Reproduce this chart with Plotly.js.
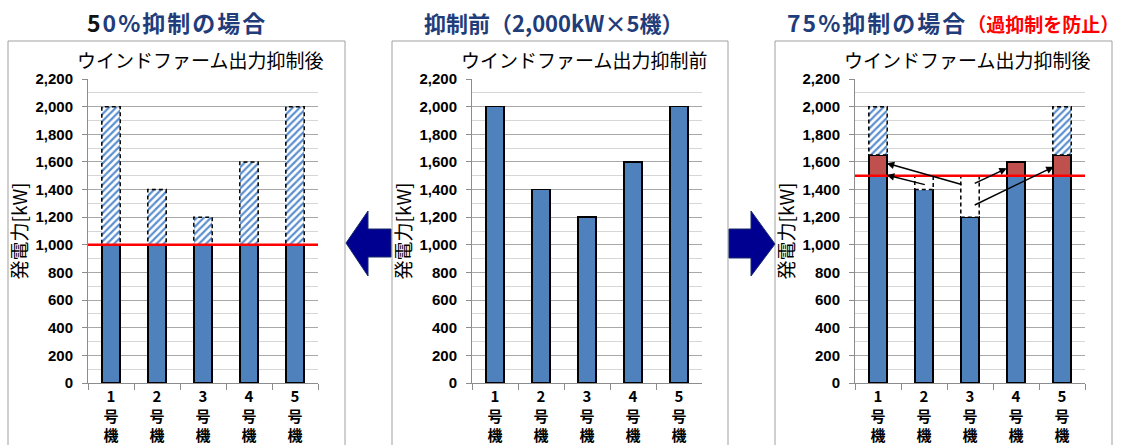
<!DOCTYPE html>
<html>
<head>
<meta charset="utf-8">
<script src="https://cdn.plot.ly/plotly-3.0.1.min.js"></script>
<style>html,body{margin:0;padding:0;background:#fff;}#chart{width:1132px;height:445px;}</style>
</head>
<body>
<div id="chart"></div>
<script>
// ---- data ----
const units = ['1<br>号<br>機', '2<br>号<br>機', '3<br>号<br>機', '4<br>号<br>機', '5<br>号<br>機'];
// 50% curtailment
const left_output = [1000, 1000, 1000, 1000, 1000];
const left_curtailed = [1000, 400, 200, 600, 1000];
const left_limit = 1000;
// before curtailment
const before_output = [2000, 1400, 1200, 1600, 2000];
// 75% curtailment
const right_output = [1500, 1400, 1200, 1500, 1500];
const right_shortfall = [0, 100, 300, 0, 0];
const right_added = [150, 0, 0, 100, 150];
const right_curtailed = [350, 0, 0, 0, 350];
const right_limit = 1500;
// transfer arrows in right panel (unit index position, kW)
const transfer_from_x = [1.05, 1.85, 2.07, 2.07];
const transfer_from_y = [1433, 1433, 1440, 1283];
const transfer_to_x = [0.19, 0.19, 2.80, 3.82];
const transfer_to_y = [1505, 1590, 1554, 1565];

const panelTitles = ['50%抑制の場合', '抑制前（2,000kW×5機）', '75%抑制の場合'];
const panelNote = '（過抑制を防止）';
const chartTitles = ['ウインドファーム出力抑制後', 'ウインドファーム出力抑制前', 'ウインドファーム出力抑制後'];
const yTitle = '発電力[kW]';

// ---- style ----
const W = 1132, H = 445;
const BLUE = '#4F81BD', RED = '#C0504D', NAVY = '#1F3D7A';
const JP = '"Noto Sans CJK JP", "Noto Sans", sans-serif';
const NUM = '"Liberation Sans", Arial, sans-serif';
const px = (x) => x / W;
const py = (y) => 1 - y / H;

const solidLine = {color: '#000', width: 1.5};
const hatch = {shape: '/', fgcolor: '#5B8FCF', bgcolor: '#ffffff', size: 5, solidity: 0.45};

function bar(xa, ya, y, color, opts) {
  const t = {type: 'bar', x: units, y: y, xaxis: xa, yaxis: ya, hoverinfo: 'skip',
    marker: {color: color, line: solidLine}};
  return Object.assign(t, opts || {});
}

const traces = [
  bar('x', 'y', left_output, BLUE),
  bar('x', 'y', left_curtailed, '#ffffff', {marker: {color: '#ffffff', pattern: hatch, line: {width: 0}}}),
  bar('x2', 'y2', before_output, BLUE),
  bar('x3', 'y3', right_output, BLUE),
  bar('x3', 'y3', right_shortfall, '#ffffff', {marker: {color: '#ffffff', line: {width: 0}}}),
  bar('x3', 'y3', right_added, RED),
  bar('x3', 'y3', right_curtailed, '#ffffff', {marker: {color: '#ffffff', pattern: hatch, line: {width: 0}}}),
];

function yaxis(domX) {
  return {
    domain: [py(383), py(79)], range: [0, 2200], dtick: 200, tickformat: ',d',
    showgrid: true, gridcolor: '#a8a8a8', gridwidth: 1,
    minor: {dtick: 100, showgrid: true, gridcolor: '#d6d6d6', gridwidth: 1},
    showline: true, linecolor: '#8c8c8c', linewidth: 1,
    ticks: 'outside', ticklen: 5, tickcolor: '#8c8c8c',
    tickfont: {family: NUM, size: 15, color: '#000', weight: 'bold'},
    ticklabelstandoff: 6,
    title: {text: yTitle, font: {family: JP, size: 19, color: '#000'}, standoff: 2},
    zeroline: false, fixedrange: true, anchor: domX
  };
}
function xaxis(d, ya) {
  return {
    domain: [px(d[0]), px(d[1])], type: 'category', range: [-0.5, 4.5],
    tickson: 'boundaries', ticks: 'outside', ticklen: 6, tickcolor: '#8c8c8c',
    showline: true, linecolor: '#8c8c8c', linewidth: 1, showgrid: false,
    tickfont: {family: JP, size: 15, color: '#000', weight: 'bold'},
    fixedrange: true, anchor: ya
  };
}

const shapes = [];
// panel frames
[[8, 345], [392, 728], [775, 1112]].forEach(([a, b]) => {
  shapes.push({type: 'rect', xref: 'paper', yref: 'paper', x0: px(a), x1: px(b), y0: -0.05, y1: py(41),
    line: {color: '#a0a0a0', width: 1}, fillcolor: 'rgba(0,0,0,0)', layer: 'below'});
});
// big arrows
function pathFrom(pts) { return 'M' + pts.map(p => px(p[0]) + ',' + py(p[1])).join(' L') + ' Z'; }
shapes.push({type: 'path', xref: 'paper', yref: 'paper',
  path: pathFrom([[346, 243], [368, 211], [368, 229], [391, 229], [391, 257], [368, 257], [368, 276]]),
  fillcolor: '#000090', line: {color: '#1a2a6a', width: 1}});
shapes.push({type: 'path', xref: 'paper', yref: 'paper',
  path: pathFrom([[729, 229], [751, 229], [751, 211], [775, 244], [751, 276], [751, 258], [729, 258]]),
  fillcolor: '#000090', line: {color: '#1a2a6a', width: 1}});

// dashed outlines for curtailed / shortfall segments
function dashed(xr, yr, base, vals) {
  vals.forEach((v, i) => {
    if (!v) return;
    shapes.push({type: 'rect', xref: xr, yref: yr, x0: i - 0.2, x1: i + 0.2, y0: base[i], y1: base[i] + v,
      line: {color: '#000', width: 1.5, dash: '4px,3px'}, fillcolor: 'rgba(0,0,0,0)', layer: 'above'});
  });
}
dashed('x', 'y', left_output, left_curtailed);
dashed('x3', 'y3', right_output, right_shortfall);
dashed('x3', 'y3', right_output.map((v, i) => v + right_shortfall[i] + right_added[i]), right_curtailed);

// limit lines
shapes.push({type: 'line', xref: 'x domain', yref: 'y', x0: 0, x1: 1, y0: left_limit, y1: left_limit,
  line: {color: '#ff0000', width: 2.5}});
shapes.push({type: 'line', xref: 'x3 domain', yref: 'y3', x0: 0, x1: 1, y0: right_limit, y1: right_limit,
  line: {color: '#ff0000', width: 2.5}});

const annotations = [];
const sp = (t) => '<b><span style="letter-spacing:2px">' + t + '</span></b>';
// panel headings (first digit of left heading is drawn in black as in the reference)
const leftHead = '<b><span style="letter-spacing:2px"><span style="color:#111111">' + panelTitles[0].slice(0, 1) +
  '</span>' + panelTitles[0].slice(1) + '</span></b>';
annotations.push({xref: 'paper', yref: 'paper', x: px(177), y: py(22), xanchor: 'center', yanchor: 'middle', showarrow: false,
  text: leftHead, font: {family: JP, size: 23, color: NAVY}});
annotations.push({xref: 'paper', yref: 'paper', x: px(553), y: py(22), xanchor: 'center', yanchor: 'middle', showarrow: false,
  text: '<b>' + panelTitles[1] + '</b>', font: {family: JP, size: 22, color: NAVY}});
annotations.push({xref: 'paper', yref: 'paper', x: px(785), xanchor: 'left', y: py(22), yanchor: 'middle', showarrow: false,
  text: sp(panelTitles[2]) + '<b><span style="font-size:19px;color:#ff0000">' + panelNote + '</span></b>',
  font: {family: JP, size: 23, color: NAVY}});
// chart titles
[200, 584, 967].forEach((c, i) => {
  annotations.push({xref: 'paper', yref: 'paper', x: px(c), y: py(59), xanchor: 'center', yanchor: 'middle', showarrow: false,
    text: chartTitles[i], font: {family: JP, size: 19, color: '#000'}});
});
// transfer arrows
transfer_from_x.forEach((fx, i) => {
  annotations.push({xref: 'x3', yref: 'y3', axref: 'x3', ayref: 'y3',
    x: transfer_to_x[i], y: transfer_to_y[i], ax: fx, ay: transfer_from_y[i],
    showarrow: true, arrowhead: 2, arrowsize: 1, arrowwidth: 1.5, arrowcolor: '#000', standoff: 0, startstandoff: 0, text: ''});
});

const layout = {
  width: W, height: H, margin: {l: 0, r: 0, t: 0, b: 0},
  paper_bgcolor: '#fff', plot_bgcolor: '#fff', showlegend: false,
  barmode: 'stack', bargap: 0.6,
  xaxis: xaxis([88, 318], 'y'), yaxis: yaxis('x'),
  xaxis2: xaxis([472, 702], 'y2'), yaxis2: yaxis('x2'),
  xaxis3: xaxis([855, 1085], 'y3'), yaxis3: yaxis('x3'),
  shapes: shapes, annotations: annotations
};

Plotly.newPlot('chart', traces, layout, {displayModeBar: false, staticPlot: true});
</script>
</body>
</html>
